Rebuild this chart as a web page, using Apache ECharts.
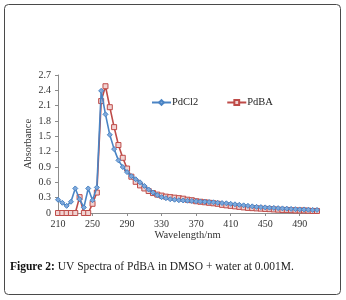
<!DOCTYPE html>
<html>
<head>
<meta charset="utf-8">
<script src="https://cdn.jsdelivr.net/npm/echarts@6/dist/echarts.min.js"></script>
<style>
  html, body { margin: 0; padding: 0; background: #fff; }
  #chart { width: 346px; height: 300px; }
</style>
</head>
<body>
<div id="chart"></div>
<script>
// 波长 (nm), 每 5 nm 一个点
const wavelengths = [
  210, 215, 220, 225, 230, 235, 240, 245, 250, 255,
  260, 265, 270, 275, 280, 285, 290, 295, 300, 305,
  310, 315, 320, 325, 330, 335, 340, 345, 350, 355,
  360, 365, 370, 375, 380, 385, 390, 395, 400, 405,
  410, 415, 420, 425, 430, 435, 440, 445, 450, 455,
  460, 465, 470, 475, 480, 485, 490, 495, 500, 505, 510
];

const pdcl2 = [
  0.26, 0.20, 0.14, 0.22, 0.48, 0.27, 0.11, 0.48, 0.25, 0.50,
  2.39, 1.93, 1.53, 1.25, 1.03, 0.90, 0.80, 0.72, 0.66, 0.60,
  0.53, 0.46, 0.40, 0.35, 0.31, 0.29, 0.27, 0.26, 0.25, 0.245,
  0.24, 0.235, 0.23, 0.225, 0.22, 0.215, 0.21, 0.20, 0.195, 0.19,
  0.18, 0.17, 0.16, 0.15, 0.14, 0.13, 0.12, 0.115, 0.11, 0.105,
  0.10, 0.095, 0.09, 0.085, 0.08, 0.075, 0.07, 0.07, 0.065, 0.06, 0.06
];

const pdba = [
  0, 0, 0, 0, 0, 0.31, 0, 0, 0.18, 0.40,
  2.19, 2.48, 2.07, 1.68, 1.33, 1.08, 0.87, 0.71, 0.61, 0.54,
  0.48, 0.43, 0.39, 0.36, 0.34, 0.32, 0.31, 0.30, 0.29, 0.28,
  0.26, 0.25, 0.23, 0.22, 0.21, 0.20, 0.19, 0.18, 0.16, 0.15,
  0.14, 0.13, 0.12, 0.11, 0.10, 0.095, 0.09, 0.085, 0.08, 0.075,
  0.07, 0.065, 0.06, 0.06, 0.055, 0.05, 0.05, 0.05, 0.045, 0.04, 0.04
];

const yTicks = [0, 0.3, 0.6, 0.9, 1.2, 1.5, 1.8, 2.1, 2.4, 2.7];

const serif = 'Liberation Serif';
const blue = '#4a84c4';
const red = '#be4b48';

const myChart = echarts.init(document.getElementById('chart'));

const option = {
  animation: false,
  backgroundColor: '#fff',
  textStyle: { fontFamily: serif },
  grid: {
    left: 58,
    right: 29,
    top: 75,
    bottom: 87
  },
  legend: {
    left: 146,
    top: 92,
    itemWidth: 19,
    itemHeight: 6,
    itemGap: 28,
    textStyle: { fontFamily: serif, fontSize: 10.5, color: '#222', padding: [0, 0, 0, -4] },
    data: ['PdCl2', 'PdBA']
  },
  xAxis: {
    type: 'category',
    boundaryGap: false,
    data: wavelengths,
    name: 'Wavelength/nm',
    nameLocation: 'middle',
    nameGap: 17,
    nameTextStyle: { fontFamily: serif, fontSize: 10.5, color: '#333' },
    axisLine: { lineStyle: { color: '#8c8c8c', width: 1 } },
    axisTick: { interval: 7, length: 3, lineStyle: { color: '#8c8c8c' } },
    axisLabel: { interval: 7, fontFamily: serif, fontSize: 10, color: '#333', margin: 6 },
    splitLine: { show: false }
  },
  yAxis: {
    type: 'value',
    min: 0,
    max: 2.7,
    interval: 0.3,
    name: 'Absorbance',
    nameLocation: 'middle',
    nameGap: 24,
    nameMoveOverlap: false,
    nameTextStyle: { fontFamily: serif, fontSize: 10.5, color: '#333' },
    axisLine: { show: true, lineStyle: { color: '#8c8c8c', width: 1 } },
    axisTick: { show: true, length: 3, lineStyle: { color: '#8c8c8c' } },
    axisLabel: {
      fontFamily: serif,
      fontSize: 10,
      color: '#333',
      margin: 7,
      formatter: function (v) {
        const t = yTicks.find(function (k) { return Math.abs(k - v) < 1e-6; });
        if (t === undefined) return '';
        return t === 0 ? '0' : t.toFixed(1);
      }
    },
    splitLine: { show: false }
  },
  series: [
    {
      name: 'PdCl2',
      type: 'line',
      data: pdcl2,
      symbol: 'diamond',
      symbolSize: 5,
      showAllSymbol: true,
      lineStyle: { color: blue, width: 1.6 },
      itemStyle: { color: '#7fa9dc', borderColor: blue, borderWidth: 1 },
      z: 3
    },
    {
      name: 'PdBA',
      type: 'line',
      data: pdba,
      symbol: 'rect',
      symbolSize: 5,
      showAllSymbol: true,
      lineStyle: { color: red, width: 1.6 },
      itemStyle: { color: '#f1d3d2', borderColor: red, borderWidth: 1 },
      z: 2
    }
  ],
  graphic: [
    {
      type: 'rect',
      shape: { x: 4.5, y: 4.5, width: 336, height: 290, r: 4 },
      style: { fill: 'none', stroke: '#4a4a4a', lineWidth: 1 },
      z: 100
    },
    {
      type: 'text',
      left: 10,
      top: 261,
      style: {
        text: '{b|Figure 2:} UV Spectra of PdBA in DMSO + water at 0.001M.',
        font: '11.5px "Liberation Serif"',
        fill: '#222',
        rich: {
          b: { fontFamily: serif, fontSize: 11.5, fontWeight: 'bold', fill: '#111' }
        }
      }
    }
  ]
};

myChart.setOption(option);

window.addEventListener('resize', function () {
  myChart.resize();
});
</script>
</body>
</html>
